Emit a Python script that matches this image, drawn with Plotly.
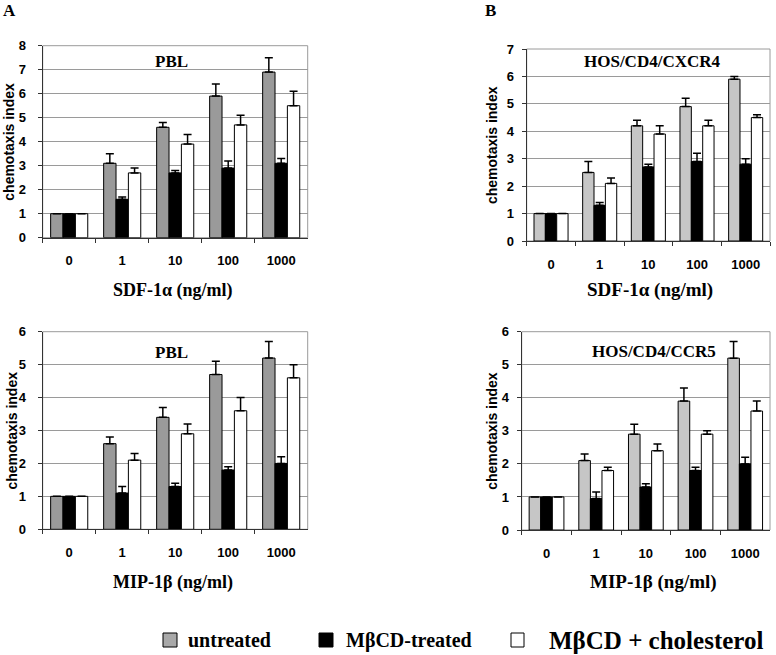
import plotly.graph_objects as go

categories = ["0", "1", "10", "100", "1000"]
series_names = ["untreated", "MβCD-treated", "MβCD + cholesterol"]

# Panel A top: SDF-1α, PBL
a_top_untreated = [1, 3.1, 4.6, 5.9, 6.9]
a_top_untreated_err = [0, 0.4, 0.2, 0.5, 0.6]
a_top_mbcd = [1, 1.6, 2.7, 2.9, 3.1]
a_top_mbcd_err = [0, 0.1, 0.1, 0.3, 0.2]
a_top_chol = [1, 2.7, 3.9, 4.7, 5.5]
a_top_chol_err = [0, 0.2, 0.4, 0.4, 0.6]

# Panel B top: SDF-1α, HOS/CD4/CXCR4
b_top_untreated = [1, 2.5, 4.2, 4.9, 5.9]
b_top_untreated_err = [0, 0.4, 0.2, 0.3, 0.1]
b_top_mbcd = [1, 1.3, 2.7, 2.9, 2.8]
b_top_mbcd_err = [0, 0.1, 0.1, 0.3, 0.2]
b_top_chol = [1, 2.1, 3.9, 4.2, 4.5]
b_top_chol_err = [0, 0.2, 0.3, 0.2, 0.1]

# Panel A bottom: MIP-1β, PBL
a_bot_untreated = [1, 2.6, 3.4, 4.7, 5.2]
a_bot_untreated_err = [0, 0.2, 0.3, 0.4, 0.5]
a_bot_mbcd = [1, 1.1, 1.3, 1.8, 2.0]
a_bot_mbcd_err = [0, 0.2, 0.1, 0.1, 0.2]
a_bot_chol = [1, 2.1, 2.9, 3.6, 4.6]
a_bot_chol_err = [0, 0.2, 0.3, 0.4, 0.4]

# Panel B bottom: MIP-1β, HOS/CD4/CCR5
b_bot_untreated = [1, 2.1, 2.9, 3.9, 5.2]
b_bot_untreated_err = [0, 0.2, 0.3, 0.4, 0.5]
b_bot_mbcd = [1, 0.95, 1.3, 1.8, 2.0]
b_bot_mbcd_err = [0, 0.2, 0.1, 0.1, 0.2]
b_bot_chol = [1, 1.8, 2.4, 2.9, 3.6]
b_bot_chol_err = [0, 0.1, 0.2, 0.1, 0.3]

W, H = 776, 655


def px(x):
    return x / W


def py(y):
    return 1 - y / H


panels = [
    dict(x="x", y="y", l=42.7, r=307.7, t=45.7, b=237.7, ymax=8,
         vals=[a_top_untreated, a_top_mbcd, a_top_chol],
         errs=[a_top_untreated_err, a_top_mbcd_err, a_top_chol_err],
         grey="#9a9a9a", label="PBL", label_xy=(171, 62),
         xtitle="SDF-1α (ng/ml)", xtitle_xy=(172.5, 290), xtitle_size=18,
         ytitle_x=9, ystand=9),
    dict(x="x2", y="y2", l=526.7, r=770, t=49, b=241, ymax=7,
         vals=[b_top_untreated, b_top_mbcd, b_top_chol],
         errs=[b_top_untreated_err, b_top_mbcd_err, b_top_chol_err],
         grey="#c6c6c6", label="HOS/CD4/CXCR4", label_xy=(652.5, 62),
         xtitle="SDF-1α (ng/ml)", xtitle_xy=(649.5, 290), xtitle_size=19,
         ytitle_x=492, ystand=5),
    dict(x="x3", y="y3", l=42.7, r=307.7, t=331.7, b=529.3, ymax=6,
         vals=[a_bot_untreated, a_bot_mbcd, a_bot_chol],
         errs=[a_bot_untreated_err, a_bot_mbcd_err, a_bot_chol_err],
         grey="#9a9a9a", label="PBL", label_xy=(171, 352),
         xtitle="MIP-1β (ng/ml)", xtitle_xy=(172.5, 582), xtitle_size=18,
         ytitle_x=11, ystand=9),
    dict(x="x4", y="y4", l=521.7, r=770, t=331.7, b=530, ymax=6,
         vals=[b_bot_untreated, b_bot_mbcd, b_bot_chol],
         errs=[b_bot_untreated_err, b_bot_mbcd_err, b_bot_chol_err],
         grey="#c6c6c6", label="HOS/CD4/CCR5", label_xy=(653.5, 351),
         xtitle="MIP-1β (ng/ml)", xtitle_xy=(653.5, 582), xtitle_size=19,
         ytitle_x=492, ystand=5),
]

sans = "Liberation Sans, Arial, sans-serif"
serif = "Liberation Serif, Times New Roman, serif"
tick_font = dict(family=sans, size=13, color="black", weight="bold")

fig = go.Figure()
annotations = []
shapes = []

for pi, p in enumerate(panels):
    fills = [p["grey"], "black", "white"]
    for si in range(3):
        fig.add_trace(go.Bar(
            x=categories, y=p["vals"][si],
            xaxis=p["x"], yaxis=p["y"],
            name=series_names[si],
            showlegend=False,
            marker=dict(color=fills[si], line=dict(color="black", width=1)),
            error_y=dict(type="data", array=p["errs"][si],
                         arrayminus=[0] * len(categories), symmetric=False,
                         color="black", thickness=1.5, width=4),
        ))
    sfx = "" if pi == 0 else str(pi + 1)
    fig.layout["xaxis" + sfx] = dict(
        domain=[px(p["l"]), px(p["r"])], anchor=p["y"], type="category",
        automargin=False,
        showline=True, linecolor="#333", linewidth=1, mirror=False,
        ticks="outside", tickson="boundaries", ticklen=4, tickcolor="#333",
        tickfont=tick_font, ticklabelstandoff=11, showgrid=False, zeroline=False,
    )
    fig.layout["yaxis" + sfx] = dict(
        domain=[py(p["b"]), py(p["t"])], anchor=p["x"], range=[0, p["ymax"]], dtick=1,
        automargin=False,
        showline=True, linecolor="#333", linewidth=1, mirror=False,
        ticks="outside", ticklen=4, tickcolor="#333",
        tickfont=tick_font, ticklabelstandoff=p["ystand"],
        showgrid=True, gridcolor="#9a9a9a", gridwidth=1, zeroline=False,
    )
    shapes.append(dict(type="rect", xref="paper", yref="paper",
                       x0=px(p["l"]), x1=px(p["r"]), y0=py(p["b"]), y1=py(p["t"]),
                       line=dict(color="#9a9a9a", width=1), layer="below"))
    annotations.append(dict(text="<b>" + p["label"] + "</b>", xref="paper", yref="paper",
                            x=px(p["label_xy"][0]), y=py(p["label_xy"][1]),
                            showarrow=False, xanchor="center", yanchor="middle",
                            font=dict(family=serif, size=17, color="black")))
    annotations.append(dict(text="<b>" + p["xtitle"] + "</b>", xref="paper", yref="paper",
                            x=px(p["xtitle_xy"][0]), y=py(p["xtitle_xy"][1]),
                            showarrow=False, xanchor="center", yanchor="middle",
                            font=dict(family=serif, size=p["xtitle_size"], color="black")))
    annotations.append(dict(text="<b>chemotaxis index</b>", xref="paper", yref="paper",
                            x=px(p["ytitle_x"]), y=py((p["t"] + p["b"]) / 2),
                            showarrow=False, xanchor="center", yanchor="middle",
                            textangle=-90,
                            font=dict(family=sans, size=14, color="black")))

# panel letters
annotations.append(dict(text="<b>A</b>", x=px(9), y=py(10), xref="paper", yref="paper",
                        showarrow=False, xanchor="center", yanchor="middle",
                        font=dict(family=serif, size=17, color="black")))
annotations.append(dict(text="<b>B</b>", x=px(490), y=py(10), xref="paper", yref="paper",
                        showarrow=False, xanchor="center", yanchor="middle",
                        font=dict(family=serif, size=17, color="black")))

# legend (drawn manually to reproduce mixed label sizes)
legend_items = [
    dict(fill="#a9a9a9", sq=(163, 177), text_x=186, size=20),
    dict(fill="black", sq=(319, 333), text_x=344, size=20),
    dict(fill="white", sq=(511, 524), text_x=547, size=25),
]
for name, item in zip(series_names, legend_items):
    shapes.append(dict(type="rect", xref="paper", yref="paper",
                       x0=px(item["sq"][0]), x1=px(item["sq"][1]),
                       y0=py(647), y1=py(633),
                       fillcolor=item["fill"], line=dict(color="black", width=1)))
    annotations.append(dict(text="<b>" + name + "</b>", xref="paper", yref="paper",
                            x=px(item["text_x"]), y=py(640), showarrow=False,
                            xanchor="left", yanchor="middle",
                            font=dict(family=serif, size=item["size"], color="black")))

fig.update_layout(
    width=W, height=H,
    margin=dict(l=0, r=0, t=0, b=0),
    paper_bgcolor="white", plot_bgcolor="white",
    barmode="group", bargap=0.30, bargroupgap=0,
    showlegend=False,
    annotations=annotations,
    shapes=shapes,
)

fig.write_html("out.html", config={"displayModeBar": False},
               post_script="document.body.style.margin='0';document.body.style.overflow='hidden';")
